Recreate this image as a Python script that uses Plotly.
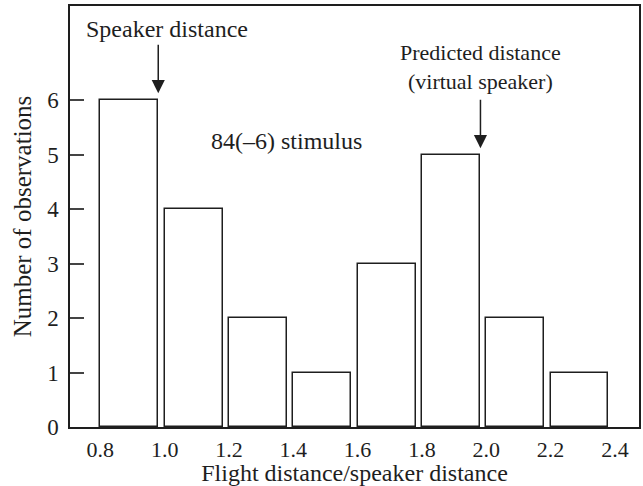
import plotly.graph_objects as go

bin_starts = [0.8, 1.0, 1.2, 1.4, 1.6, 1.8, 2.0, 2.2]
counts = [6, 4, 2, 1, 3, 5, 2, 1]
x_ticks = [0.8, 1.0, 1.2, 1.4, 1.6, 1.8, 2.0, 2.2, 2.4]
x_tick_labels = ["0.8", "1.0", "1.2", "1.4", "1.6", "1.8", "2.0", "2.2", "2.4"]
y_ticks = [0, 1, 2, 3, 4, 5, 6]

FONT = "Liberation Serif"
INK = "#1e1e1e"

fig = go.Figure()
fig.add_trace(go.Bar(
    x=bin_starts, y=counts, width=0.18, offset=0,
    marker=dict(color="white", line=dict(color=INK, width=1.5)),
    showlegend=False, hoverinfo="skip",
))

fig.update_layout(
    width=643, height=486,
    margin=dict(l=70, r=2, t=6, b=59),
    paper_bgcolor="white", plot_bgcolor="white",
    font=dict(family=FONT, size=23, color=INK),
    bargap=0,
)
fig.update_xaxes(
    range=[0.7056, 2.475], tickvals=x_ticks, ticktext=x_tick_labels,
    showgrid=False, zeroline=False, showline=True, mirror=True,
    linecolor=INK, linewidth=1.5, ticks="", ticklabelstandoff=2,
    tickfont=dict(family=FONT, size=22, color=INK),
    title=dict(text="Flight distance/speaker distance", standoff=4,
               font=dict(family=FONT, size=24, color=INK)),
)
fig.update_yaxes(
    range=[0, 7.73], tickvals=y_ticks,
    showgrid=False, zeroline=False, showline=True, mirror=True,
    linecolor=INK, linewidth=1.5, ticks="inside", ticklen=14,
    tickcolor="#444444", tickwidth=1.5, ticklabelstandoff=5,
    tickfont=dict(family=FONT, size=23, color=INK),
    title=dict(text="Number of observations", standoff=8,
               font=dict(family=FONT, size=25, color=INK)),
)

fig.add_annotation(
    x=0.98, y=6.13, xref="x", yref="y", ax=0, ay=-50,
    showarrow=True, arrowhead=2, arrowsize=1.75, arrowwidth=1.5,
    arrowcolor=INK, text="",
)
fig.add_annotation(
    x=0.98, y=7.31, xref="x", yref="y", xshift=9,
    showarrow=False, text="Speaker distance",
    font=dict(family=FONT, size=24, color=INK),
)
fig.add_annotation(
    x=1.982, y=5.12, xref="x", yref="y", ax=0, ay=-50,
    showarrow=True, arrowhead=2, arrowsize=1.75, arrowwidth=1.5,
    arrowcolor=INK, text="",
)
fig.add_annotation(
    x=1.982, y=6.61, xref="x", yref="y",
    showarrow=False, text="Predicted distance<br>(virtual speaker)",
    font=dict(family=FONT, size=22, color=INK),
)
fig.add_annotation(
    x=1.38, y=5.25, xref="x", yref="y",
    showarrow=False, text="84(–6) stimulus",
    font=dict(family=FONT, size=24, color=INK),
)

fig.write_html("out.html")
